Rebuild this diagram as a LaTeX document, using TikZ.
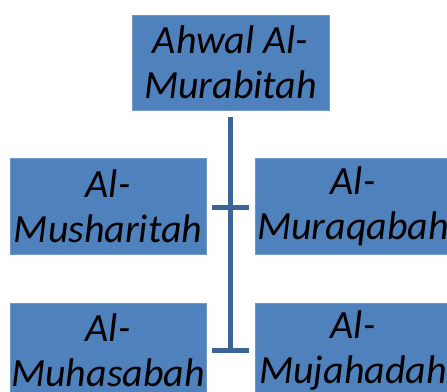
\documentclass[tikz,border=0pt]{standalone}
\usepackage{fontspec}
\setmainfont{Carlito}
\definecolor{boxfill}{HTML}{4F81BD}
\definecolor{boxedge}{HTML}{7096C8}
\definecolor{linkcol}{HTML}{3D6496}
\begin{document}
\begin{tikzpicture}[x=1pt,y=-1pt,
  orgbox/.style={fill=boxfill,draw=boxedge,line width=0.8pt,minimum width=196pt,minimum height=96pt,
    inner sep=0pt,align=center,font=\fontsize{40}{45}\selectfont\itshape,text=black},
  link/.style={draw=linkcol,line width=5pt}]
\useasboundingbox (0,0) rectangle (447,391);
\begin{scope}
\clip (0,0) rectangle (447,391);
\node[orgbox,minimum width=197pt,minimum height=95pt] (top) at (230.5,62.5) {Ahwal Al-\\Murabitah};
\node[orgbox] (a) at (108,206) {Al-\\Musharitah};
\node[orgbox] (b) at (353,206) {Al-\\Muraqabah};
\node[orgbox,minimum height=96pt] (c) at (108,351) {\raisebox{2pt}{Al-}\\\raisebox{2pt}{Muhasabah}};
\node[orgbox,minimum height=96pt] (d) at (353,351) {\raisebox{2pt}{Al-}\\\raisebox{2pt}{Mujahadah}};
\coordinate (s) at (230.5,117);
\coordinate (j1) at (230.5,207);
\coordinate (j2) at (230.5,350);
\draw[link] (s) -- (j2);
\draw[link] (a.east |- j1) ++(6,0) -- ([xshift=-6pt]b.west |- j1);
\draw[link] (c.east |- j2) ++(6,0) -- ([xshift=-6pt]d.west |- j2);
\end{scope}
\end{tikzpicture}
\end{document}
